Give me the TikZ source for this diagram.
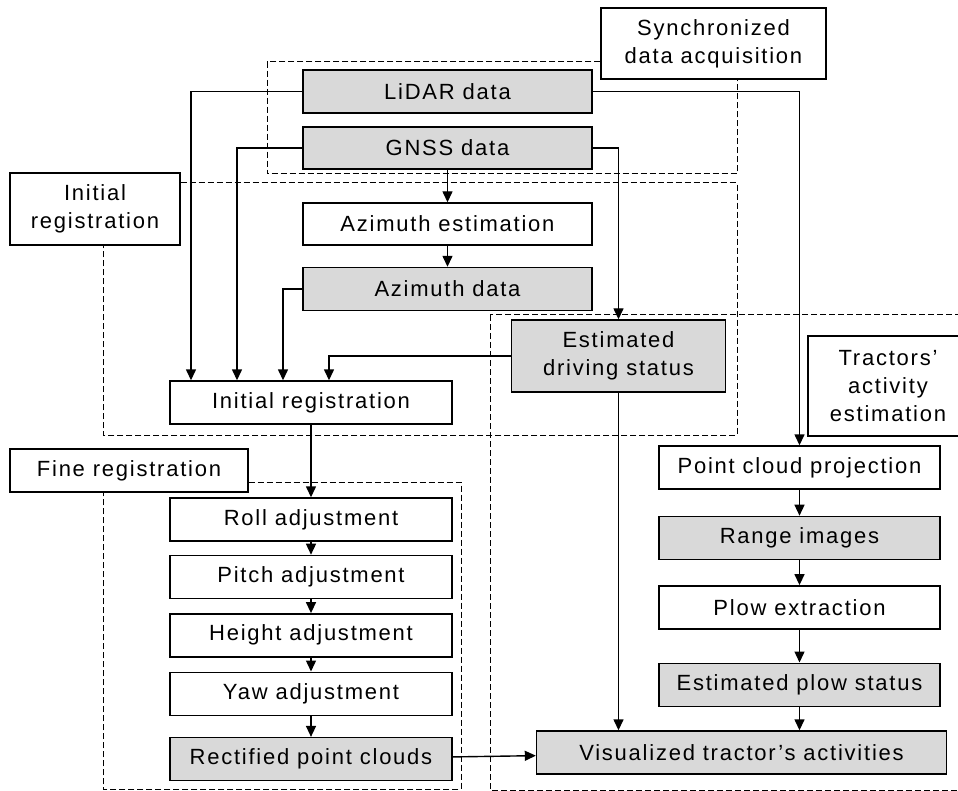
\documentclass[tikz,border=0pt]{standalone}
\usepackage{fontspec}
\setmainfont{Liberation Sans}[LetterSpace=8]
\usetikzlibrary{arrows.meta,positioning}
\definecolor{boxgray}{HTML}{D9D9D9}

\begin{document}
\begin{tikzpicture}[
    x=1pt,y=-1pt,
    >={Triangle[length=11pt,width=10pt]},
    font=\fontsize{22}{28}\selectfont,
    procbox/.style={rectangle,draw,line width=1.4pt,fill=white,inner sep=0pt,
        minimum height=43pt,align=center},
    databox/.style={procbox,fill=boxgray},
    stagebox/.style={procbox},
    stageframe/.style={draw,dash pattern=on 6pt off 3pt,line width=1pt},
    flow/.style={->,line width=1.4pt},
    node distance=13pt
  ]
    \useasboundingbox (0,0) rectangle (958,791);

    % stage frames
    \coordinate (sync nw) at (267,62);
    \coordinate (sync se) at (737,174);
    \coordinate (init ne) at (737,183);
    \coordinate (init sw) at (103,435);
    \coordinate (fine ne) at (461,482);
    \coordinate (fine sw) at (103,789);
    \coordinate (act nw)  at (490,315);
    \coordinate (act se)  at (975,790);

    \node (syncLbl) [stagebox,minimum width=225pt,minimum height=71pt] at (713.5,43.5)
        {Synchronized\\data acquisition};
    \node (initLbl) [stagebox,minimum width=170pt,minimum height=72pt] at (95,209)
        {Initial\\registration};
    \node (fineLbl) [stagebox,minimum width=238pt] at (129,470.5) {Fine registration};

    \draw [stageframe] (syncLbl.west |- sync nw) -- (sync nw) |- (sync se)
        -- (syncLbl.south -| sync se);
    \draw [stageframe] (initLbl.east |- init ne) -- (init ne) |- (init sw)
        -- (initLbl.south -| init sw);
    \draw [stageframe] (fineLbl.east |- fine ne) -- (fine ne) |- (fine sw)
        -- (fineLbl.south -| fine sw);
    \draw [stageframe] (act nw) rectangle (act se);

    \node (actLbl) [stagebox,minimum width=160pt,minimum height=100pt] at (888,386)
        {Tractors'\\activity\\estimation};

    % acquisition and initial registration
    \node (lidar)  [databox,minimum width=289pt] at (447.5,91.5) {LiDAR data};
    \node (gnss)   [databox,minimum width=289pt,minimum height=42pt] at (447.5,148) {GNSS data};
    \node (azest)  [procbox,minimum width=289pt,minimum height=42pt] at (447.5,224) {Azimuth estimation};
    \node (azdata) [databox,minimum width=289pt] at (447.5,289) {Azimuth data};
    \node (drive)  [databox,minimum width=214pt,minimum height=72pt] at (618.5,356)
        {Estimated\\driving status};
    \node (initreg) [procbox,minimum width=282pt] at (311,402.5) {Initial registration};

    % fine registration
    \begin{scope}[every node/.append style={minimum width=282pt}]
        \node (roll)   [procbox] at (311,519.5) {Roll adjustment};
        \node (pitch)  [procbox,below=13pt of roll]   {Pitch adjustment};
        \node (height) [procbox,below=14pt of pitch]  {Height adjustment};
        \node (yaw)    [procbox,below=14pt of height] {Yaw adjustment};
        \node (rect)   [databox,below=21pt of yaw]    {Rectified point clouds};
    \end{scope}

    % activity estimation
    \begin{scope}[every node/.append style={minimum width=281pt}]
        \node (pcp)      [procbox] at (799.5,467.5) {Point cloud projection};
        \node (range)    [databox,below=26pt of pcp]   {Range images};
        \node (plow)     [procbox,below=25pt of range] {Plow extraction};
        \node (plowstat) [databox,below=33pt of plow]  {Estimated plow status};
    \end{scope}
    \node (vis) [databox,minimum width=410pt] at (741.5,752.5) {Visualized tractor's activities};

    % connectors
    \draw [flow] (lidar.west)  -| ([xshift=-120pt]initreg.north);
    \draw [flow] (gnss.west)   -| ([xshift=-74pt]initreg.north);
    \draw [flow] (azdata.west) -| ([xshift=-28pt]initreg.north);
    \draw [flow] (drive.west)  -| ([xshift=18pt]initreg.north);
    \draw [flow] (gnss.east)   -| (drive.north);
    \draw [flow] (lidar.east)  -| (pcp.north);
    \foreach \from/\to in {gnss/azest,azest/azdata,initreg/roll,roll/pitch,
            pitch/height,height/yaw,yaw/rect,pcp/range,range/plow,plow/plowstat}
        \draw [flow] (\from) -- (\to);
    \draw [flow] (rect) -- (vis);
    \draw [flow] (drive.south) -- (drive.south |- vis.north);
    \draw [flow] (plowstat.south) -- (plowstat.south |- vis.north);
\end{tikzpicture}
\end{document}
